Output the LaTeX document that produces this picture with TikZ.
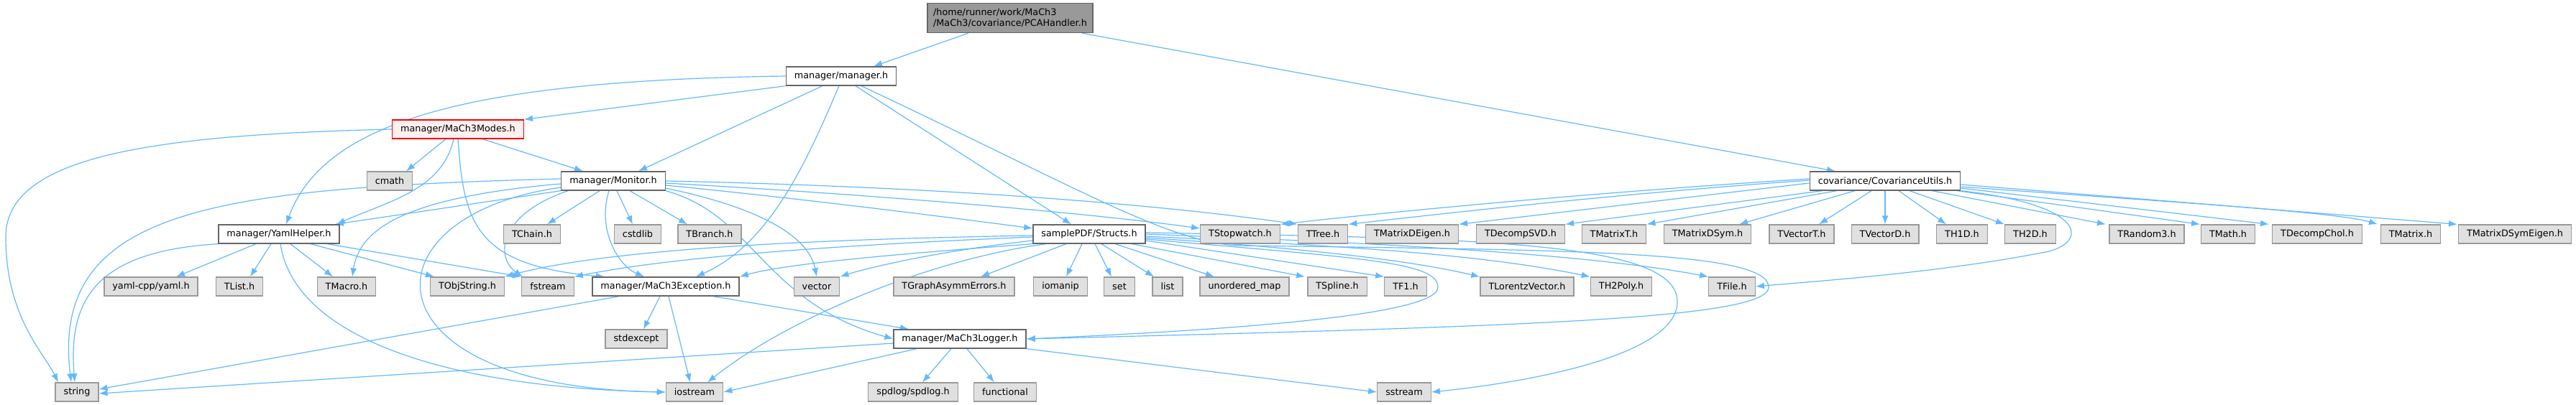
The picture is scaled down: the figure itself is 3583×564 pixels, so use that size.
\documentclass[tikz,border=0pt]{standalone}
\usepackage{fontspec}
\setmainfont{DejaVu Sans}
\usepackage{tikz}
\usetikzlibrary{arrows.meta, backgrounds}
\definecolor{edgeblue}{HTML}{63B8FF}
\definecolor{extfill}{HTML}{E0E0E0}
\definecolor{extdraw}{HTML}{999999}
\definecolor{projdraw}{HTML}{666666}
\definecolor{rootfill}{HTML}{999999}
\definecolor{truncfill}{HTML}{FFF0F0}

\begin{document}
\begin{tikzpicture}[x=1pt, y=-1pt, >={Latex[length=12pt,width=9pt]},
  box/.style={shape=rectangle, line width=1.3pt, minimum height=26pt, inner xsep=11.5pt, inner ysep=0pt, font=\fontsize{12.8pt}{15pt}\selectfont},
  ext/.style={box, draw=extdraw, fill=extfill},
  proj/.style={box, draw=projdraw, fill=white},
  trunc/.style={box, draw=red, fill=truncfill},
  root/.style={box, draw=projdraw, fill=rootfill, minimum height=41pt, align=left, inner xsep=8pt},
  dep/.style={->, draw=edgeblue, line width=1.2pt}]
\useasboundingbox (0, 0) rectangle (3583, 564);

\node[root] (pca) at (1405, 25) {/home/runner/work/MaCh3\\/MaCh3/covariance/PCAHandler.h};
\node[proj] (manager) at (1170, 106) {manager/manager.h};
\node[trunc] (modes) at (637, 180) {manager/MaCh3Modes.h};
\node[ext] (cmath) at (542, 252) {cmath};
\node[proj] (monitor) at (853, 252) {manager/Monitor.h};
\node[proj] (covutils) at (2622, 252) {covariance/CovarianceUtils.h};

\node[proj] (yaml) at (388, 326) {manager/YamlHelper.h};
\node[ext] (tchain) at (740, 326) {TChain.h};
\node[ext] (cstdlib) at (887, 326) {cstdlib};
\node[ext] (tbranch) at (987, 326) {TBranch.h};
\node[proj] (structs) at (1515, 326) {samplePDF/Structs.h};
\node[ext] (tstopwatch) at (1725, 326) {TStopwatch.h};
\node[ext] (ttree) at (1840, 326) {TTree.h};
\node[ext] (tmatrixdeigen) at (1964, 326) {TMatrixDEigen.h};
\node[ext] (tdecompsvd) at (2115, 326) {TDecompSVD.h};
\node[ext] (tmatrixt) at (2245, 326) {TMatrixT.h};
\node[ext] (tmatrixdsym) at (2375, 326) {TMatrixDSym.h};
\node[ext] (tvectort) at (2506, 326) {TVectorT.h};
\node[ext] (tvectord) at (2622, 326) {TVectorD.h};
\node[ext] (th1d) at (2729, 326) {TH1D.h};
\node[ext] (th2d) at (2824, 326) {TH2D.h};
\node[ext] (trandom3) at (2986, 326) {TRandom3.h};
\node[ext] (tmath) at (3099, 326) {TMath.h};
\node[ext] (tdecompchol) at (3223, 326) {TDecompChol.h};
\node[ext] (tmatrix) at (3353, 326) {TMatrix.h};
\node[ext] (tmatrixdsymeigen) at (3498, 326) {TMatrixDSymEigen.h};

\node[ext] (yamlcpp) at (210, 399) {yaml-cpp/yaml.h};
\node[ext] (tlist) at (333, 399) {TList.h};
\node[ext] (tmacro) at (482, 399) {TMacro.h};
\node[ext] (tobjstring) at (650, 399) {TObjString.h};
\node[ext] (fstream) at (762, 399) {fstream};
\node[proj] (exception) at (926, 399) {manager/MaCh3Exception.h};
\node[ext] (vector) at (1136, 399) {vector};
\node[ext] (tgraph) at (1327, 399) {TGraphAsymmErrors.h};
\node[ext] (iomanip) at (1475, 399) {iomanip};
\node[ext] (set) at (1557, 399) {set};
\node[ext] (list) at (1624, 399) {list};
\node[ext] (unorderedmap) at (1731, 399) {unordered\_map};
\node[ext] (tspline) at (1860, 399) {TSpline.h};
\node[ext] (tf1) at (1955, 399) {TF1.h};
\node[ext] (tlorentz) at (2124, 399) {TLorentzVector.h};
\node[ext] (th2poly) at (2255, 399) {TH2Poly.h};
\node[ext] (tfile) at (2409, 399) {TFile.h};

\node[ext] (stdexcept) at (885, 472) {stdexcept};
\node[proj] (logger) at (1335, 472) {manager/MaCh3Logger.h};

\node[ext] (string) at (107, 546) {string};
\node[ext] (iostream) at (966, 546) {iostream};
\node[ext] (spdlog) at (1270, 546) {spdlog/spdlog.h};
\node[ext] (functional) at (1398, 546) {functional};
\node[ext] (sstream) at (1953, 546) {sstream};

\begin{scope}[on background layer]
\draw[dep] ([xshift=-58pt]pca.south) -- ([xshift=45pt]manager.north);
\draw[dep] ([xshift=100pt]pca.south) -- ([xshift=-69pt]covutils.north);

\draw[dep] (manager.south west) -- (modes.north east);
\draw[dep] ([xshift=-26pt]manager.south) -- ([xshift=35pt]monitor.north);
\draw[dep] (manager.west) .. controls (650, 112) and (450, 170) .. ([xshift=10pt]yaml.north);
\draw[dep] ([xshift=-3pt]manager.south) .. controls (1120, 230) and (1070, 340) .. ([xshift=42pt]exception.north);
\draw[dep] ([xshift=20pt]manager.south) -- ([xshift=-25pt]structs.north);
\draw[dep] ([xshift=28pt]manager.south) .. controls (1500, 262) and (1620, 335) .. (1720, 342) .. controls (2200, 348) and (2460, 350) .. (2460, 400) .. controls (2460, 445) and (2100, 455) .. (logger.east);

\draw[dep] (modes.west) .. controls (200, 188) and (8, 220) .. (8, 330) .. controls (8, 440) and (60, 490) .. ([xshift=-26pt]string.north);
\draw[dep] ([xshift=-17pt]modes.south) -- ([xshift=23pt]cmath.north);
\draw[dep] ([xshift=34pt]modes.south) -- ([xshift=-42pt]monitor.north);
\draw[dep] ([xshift=-6pt]modes.south) .. controls (615, 265) and (540, 280) .. ([xshift=80pt]yaml.north);
\draw[dep] (modes.south) .. controls (645, 310) and (660, 370) .. ([xshift=-85pt]exception.north);

\draw[dep] (monitor.south west) -- ([xshift=78pt]yaml.north);
\draw[dep] ([yshift=3pt]monitor.west) .. controls (300, 262) and (70, 290) .. ([xshift=-8pt]string.north);
\draw[dep] ([yshift=-4pt]monitor.west) .. controls (560, 275) and (500, 320) .. ([xshift=8pt]tmacro.north);
\draw[dep] ([yshift=-9pt]monitor.west) .. controls (500, 300) and (500, 540) .. (iostream.west);
\draw[dep] ([xshift=10pt]monitor.south west) .. controls (690, 300) and (690, 360) .. ([xshift=-35pt]fstream.north);
\draw[dep] ([xshift=-19pt]monitor.south) -- ([xshift=21pt]tchain.north);
\draw[dep] ([xshift=5pt]monitor.south) -- ([xshift=-7pt]cstdlib.north);
\draw[dep] ([xshift=23pt]monitor.south) -- ([xshift=-31pt]tbranch.north);
\draw[dep] ([xshift=-6pt]monitor.south) .. controls (830, 320) and (860, 370) .. ([xshift=-30pt]exception.north);
\draw[dep] ([yshift=-10pt]monitor.east) .. controls (1060, 290) and (1125, 330) .. (vector.north);
\draw[dep] (monitor.south east) .. controls (1050, 300) and (1060, 420) .. (logger.west);
\draw[dep] ([yshift=-6pt]monitor.east) .. controls (1100, 275) and (1300, 300) .. ([yshift=8pt]structs.west);
\draw[dep] ([yshift=-3pt]monitor.east) .. controls (1200, 270) and (1500, 295) .. ([yshift=8pt]tstopwatch.west);
\draw[dep] (monitor.east) .. controls (1300, 260) and (1600, 283) .. (ttree.north west);

\draw[dep] ([yshift=3pt]covutils.west) .. controls (2250, 266) and (1980, 290) .. (tstopwatch.north east);
\draw[dep] ([yshift=1pt]covutils.west) .. controls (2250, 270) and (2030, 295) .. (ttree.north east);
\draw[dep] ([yshift=-3pt]covutils.west) -- (tmatrixdeigen.north east);
\draw[dep] ([xshift=-87pt]covutils.south) -- (tdecompsvd.north east);
\draw[dep] ([xshift=-67pt]covutils.south) -- (tmatrixt.north east);
\draw[dep] ([xshift=-42pt]covutils.south) -- ([xshift=44pt]tmatrixdsym.north);
\draw[dep] ([xshift=-19pt]covutils.south) -- ([xshift=24pt]tvectort.north);
\draw[dep] (covutils.south) -- (tvectord.north);
\draw[dep] ([xshift=19pt]covutils.south) -- ([xshift=-22pt]th1d.north);
\draw[dep] ([xshift=34pt]covutils.south) -- ([xshift=-36pt]th2d.north);
\draw[dep] ([xshift=65pt]covutils.south) -- ([xshift=-57pt]trandom3.north);
\draw[dep] ([xshift=100pt]covutils.south) -- ([xshift=-39pt]tmath.north);
\draw[dep] ([yshift=-10pt]covutils.east) -- ([xshift=-67pt]tdecompchol.north);
\draw[dep] ([yshift=-8pt]covutils.east) .. controls (3000, 280) and (3250, 295) .. ([xshift=-46pt]tmatrix.north);
\draw[dep] ([yshift=-5pt]covutils.east) -- ([xshift=-80pt]tmatrixdsymeigen.north);
\draw[dep] (covutils.south east) .. controls (2900, 285) and (2905, 335) .. (2850, 350) .. controls (2700, 380) and (2520, 392) .. (tfile.east);

\draw[dep] ([yshift=-9pt]structs.west) .. controls (1300, 350) and (1200, 375) .. (vector.north east);
\draw[dep] ([yshift=-4pt]structs.west) .. controls (1200, 340) and (950, 355) .. (fstream.north east);
\draw[dep] ([yshift=-2pt]structs.west) .. controls (1150, 333) and (850, 345) .. (tobjstring.north east);
\draw[dep] (structs.south west) .. controls (1300, 350) and (1100, 365) .. (exception.north east);
\draw[dep] ([xshift=-60pt]structs.south) .. controls (1300, 360) and (1100, 440) .. ([xshift=18pt]iostream.north);
\draw[dep] ([xshift=-32pt]structs.south) -- ([xshift=37pt]tgraph.north);
\draw[dep] ([xshift=-10pt]structs.south) -- ([xshift=8pt]iomanip.north);
\draw[dep] ([xshift=8pt]structs.south) -- ([xshift=-11pt]set.north);
\draw[dep] ([xshift=17pt]structs.south) -- ([xshift=-19pt]list.north);
\draw[dep] ([xshift=36pt]structs.south) -- ([xshift=-42pt]unorderedmap.north);
\draw[dep] ([xshift=59pt]structs.south) -- ([xshift=-45pt]tspline.north);
\draw[dep] ([yshift=-9pt]structs.east) -- (tf1.north west);
\draw[dep] ([yshift=-5pt]structs.east) .. controls (1800, 345) and (1950, 360) .. (tlorentz.north west);
\draw[dep] ([yshift=-3pt]structs.east) .. controls (1850, 342) and (2050, 352) .. (th2poly.north west);
\draw[dep] (structs.east) .. controls (1900, 338) and (2200, 352) .. (tfile.north west);
\draw[dep] ([yshift=-7pt]structs.east) .. controls (1900, 360) and (2000, 365) .. (2000, 400) .. controls (2000, 440) and (1700, 460) .. (logger.east);
\draw[dep] ([yshift=2pt]structs.east) .. controls (2050, 332) and (2333, 335) .. (2333, 420) .. controls (2333, 500) and (2100, 535) .. (sstream.east);

\draw[dep] (yaml.south west) .. controls (130, 350) and (95, 420) .. ([xshift=-3pt]string.north);
\draw[dep] ([xshift=-32pt]yaml.south) -- ([xshift=35pt]yamlcpp.north);
\draw[dep] ([xshift=-11pt]yaml.south) -- ([xshift=15pt]tlist.north);
\draw[dep] ([xshift=16pt]yaml.south) -- ([xshift=-19pt]tmacro.north);
\draw[dep] ([xshift=44pt]yaml.south) -- ([xshift=-46pt]tobjstring.north);
\draw[dep] ([xshift=67pt]yaml.south) -- (fstream.north west);
\draw[dep] ([xshift=2pt]yaml.south) .. controls (410, 470) and (620, 540) .. (iostream.west);

\draw[dep] ([xshift=-65pt]exception.south) -- ([yshift=4pt]string.east);
\draw[dep] ([xshift=-8pt]exception.south) -- ([xshift=10pt]stdexcept.north);
\draw[dep] ([xshift=4pt]exception.south) -- ([xshift=-6pt]iostream.north);
\draw[dep] ([xshift=66pt]exception.south) -- ([xshift=-71pt]logger.north);

\draw[dep] ([yshift=-6pt]logger.west) -- ([yshift=-2pt]string.east);
\draw[dep] ([xshift=-60pt]logger.south) -- (iostream.east);
\draw[dep] ([xshift=-12pt]logger.south) -- ([xshift=13pt]spdlog.north);
\draw[dep] ([xshift=10pt]logger.south) -- ([xshift=-15pt]functional.north);
\draw[dep] (logger.south east) -- (sstream.west);
\end{scope}
\end{tikzpicture}
\end{document}
